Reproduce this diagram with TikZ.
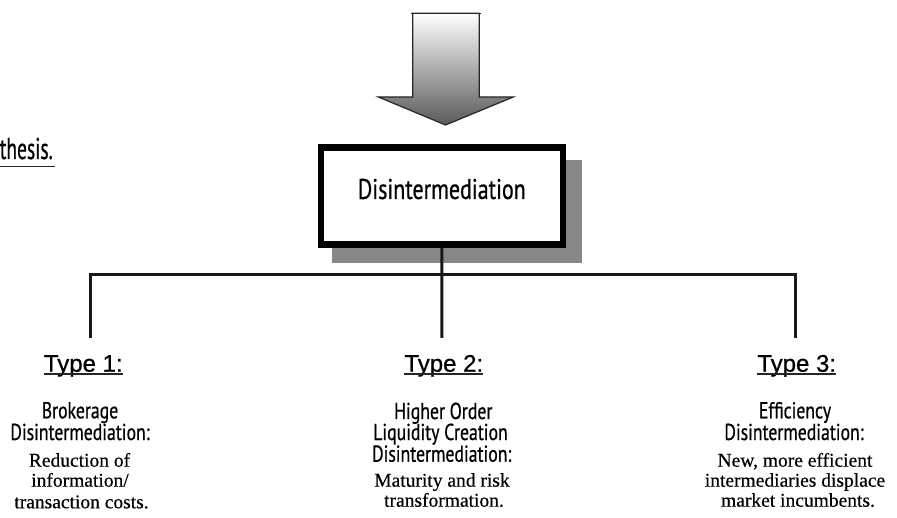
\documentclass[tikz,border=0pt]{standalone}
\usepackage{fontspec}
\setmainfont[FakeBold=0.4]{Liberation Serif}
\newfontfamily\condsans[FakeStretch=0.77, FakeBold=0.6]{PT Sans}
\newfontfamily\narrowsans[FakeStretch=0.65, FakeBold=0.6]{PT Sans}
\newfontfamily\labelsans[FakeBold=0.7]{Liberation Sans}

\tikzset{
  txt/.style={inner sep=0pt, anchor=base},
  sanstxt/.style={txt, font=\condsans\fontsize{23}{27}\selectfont},
  seriftxt/.style={txt, font=\fontsize{19.5}{23}\selectfont},
  typelabel/.style={txt, font=\labelsans\fontsize{24}{28}\selectfont},
  ulline/.style={line width=1.5pt, black!85},
  conn/.style={line width=3pt, black!90, line join=miter},
  mainbox/.style={draw=black, line width=6.5pt, fill=white,
    minimum width=241.8pt, minimum height=97.2pt, inner sep=0pt,
    text height=21pt, text depth=15.4pt,
    font=\condsans\fontsize{28.5}{32}\selectfont},
  dropshadow/.style={fill=black!47},
  bigarrow/.style={draw=black!85, line width=1.2pt, line join=miter,
    top color=white, bottom color=black!65}
}

\begin{document}
\begin{tikzpicture}[x=1pt, y=-1pt]
\useasboundingbox (0,0) rectangle (897,518);

% heading fragment at the left
\node[txt, anchor=base east, font=\narrowsans\fontsize{30}{34}\selectfont] (head) at (53,159) {thesis.};
\draw[ulline] (0,166.7) -- (55,166.7);

% downward block arrow
\path[bigarrow] (412.7,13.3) -- (412.7,97) -- (378.3,97) -- (445.5,125)
  -- (513.3,97) -- (479.3,97) -- (479.3,13.3) -- cycle;
\draw[black!85, line width=1.2pt] (411,13.3) -- (481,13.3);

% main box with its shadow
\fill[dropshadow] (331.7,160) rectangle (581.7,262.7);
\node[mainbox] (dis) at (441.85,196.15) {Disintermediation};

% tree connectors
\coordinate (b1) at (90,275);
\coordinate (b3) at (795,275);
\coordinate (d1) at (90,338);
\coordinate (d2) at (441.8,338);
\coordinate (d3) at (795,338);
\draw[conn] (d1) -- (b1) -- (b3) -- (d3);
\draw[conn] (dis.south) -- (d2);

% type labels
\node[typelabel] (t1) at (83.3,371.7) {Type 1:};
\node[typelabel] (t2) at (443.8,371.7) {Type 2:};
\node[typelabel] (t3) at (796.7,371.7) {Type 3:};
\foreach \t in {t1,t2,t3}
  \draw[ulline] ([yshift=-2.5pt]\t.base west) -- ([yshift=-2.5pt]\t.base east);

% type 1 description
\node[sanstxt] (a1) at (80,418.3) {Brokerage};
\node[sanstxt] (a2) at (80,440) {Disintermediation:};
\node[seriftxt] (a3) at (79.5,466.7) {Reduction of};
\node[seriftxt] (a4) at (80,486.7) {information/};
\node[seriftxt] (a5) at (81.5,508.3) {transaction costs.};

% type 2 description
\node[sanstxt] (m1) at (443.3,419) {Higher Order};
\node[sanstxt] (m2) at (440.5,440) {Liquidity Creation};
\node[sanstxt] (m3) at (441.7,461.7) {Disintermediation:};
\node[seriftxt] (m4) at (442,486.7) {Maturity and risk};
\node[seriftxt] (m5) at (444,506.7) {transformation.};

% type 3 description
\node[sanstxt] (e1) at (795,418.3) {Efficiency};
\node[sanstxt] (e2) at (794,440) {Disintermediation:};
\node[seriftxt] (e3) at (795,466.7) {New, more efficient};
\node[seriftxt] (e4) at (795,486.7) {intermediaries displace};
\node[seriftxt] (e5) at (798,506.7) {market incumbents.};
\end{tikzpicture}
\end{document}
